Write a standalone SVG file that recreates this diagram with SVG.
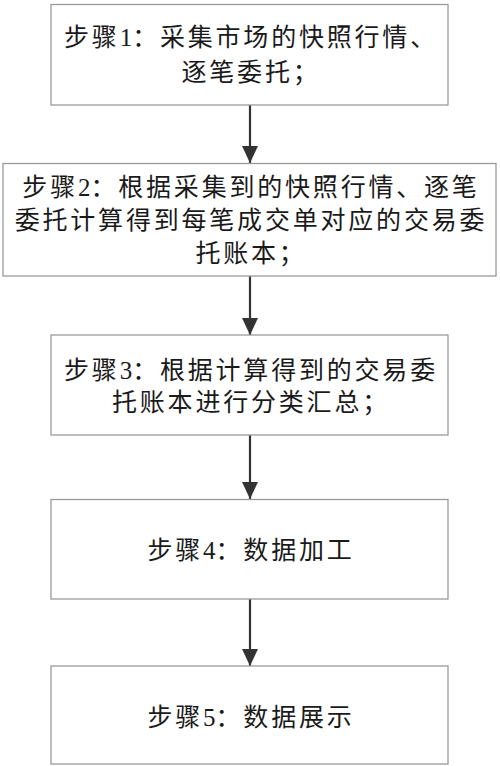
<svg xmlns="http://www.w3.org/2000/svg" width="500" height="766" viewBox="0 0 500 766">
<style>
.box{fill:#fff;stroke:#9a9a9a;stroke-width:1.3}
.t{font-family:"Liberation Serif","Noto Sans CJK SC",serif;font-size:25px;fill:#1a1a1a;text-anchor:middle;dominant-baseline:central;letter-spacing:2.8px}
.d{letter-spacing:0}
.c{stroke:#333;stroke-width:2.2;fill:none}
</style>
<defs>
<marker id="ah" markerUnits="userSpaceOnUse" markerWidth="18" markerHeight="20" refX="17" refY="8" orient="auto">
<path d="M0,0 L17,8 L0,16 Z" fill="#333"/>
</marker>
</defs>
<rect width="500" height="766" fill="#fff"/>
<g id="connectors">
<line class="c" x1="250" y1="105" x2="250" y2="163" marker-end="url(#ah)"/>
<line class="c" x1="250" y1="276" x2="250" y2="335" marker-end="url(#ah)"/>
<line class="c" x1="250" y1="435" x2="250" y2="499" marker-end="url(#ah)"/>
<line class="c" x1="250" y1="599" x2="250" y2="666" marker-end="url(#ah)"/>
</g>
<g id="step1">
<rect class="box" x="51" y="4.5" width="397" height="100.5"/>
<text class="t" x="251" y="37">步骤<tspan class="d">1</tspan>：采集市场的快照行情、</text>
<text class="t" x="251" y="72">逐笔委托；</text>
</g>
<g id="step2">
<rect class="box" x="3" y="163.5" width="493" height="112.5"/>
<text class="t" x="251" y="187">步骤<tspan class="d">2</tspan>：根据采集到的快照行情、逐笔</text>
<text class="t" x="251" y="220">委托计算得到每笔成交单对应的交易委</text>
<text class="t" x="251" y="253">托账本；</text>
</g>
<g id="step3">
<rect class="box" x="51" y="335" width="397" height="100"/>
<text class="t" x="251" y="370">步骤<tspan class="d">3</tspan>：根据计算得到的交易委</text>
<text class="t" x="251" y="402">托账本进行分类汇总；</text>
</g>
<g id="step4">
<rect class="box" x="51" y="499.5" width="397" height="99.5"/>
<text class="t" x="251" y="550">步骤<tspan class="d">4</tspan>：数据加工</text>
</g>
<g id="step5">
<rect class="box" x="51" y="666" width="397" height="98"/>
<text class="t" x="251" y="717">步骤<tspan class="d">5</tspan>：数据展示</text>
</g>
</svg>
